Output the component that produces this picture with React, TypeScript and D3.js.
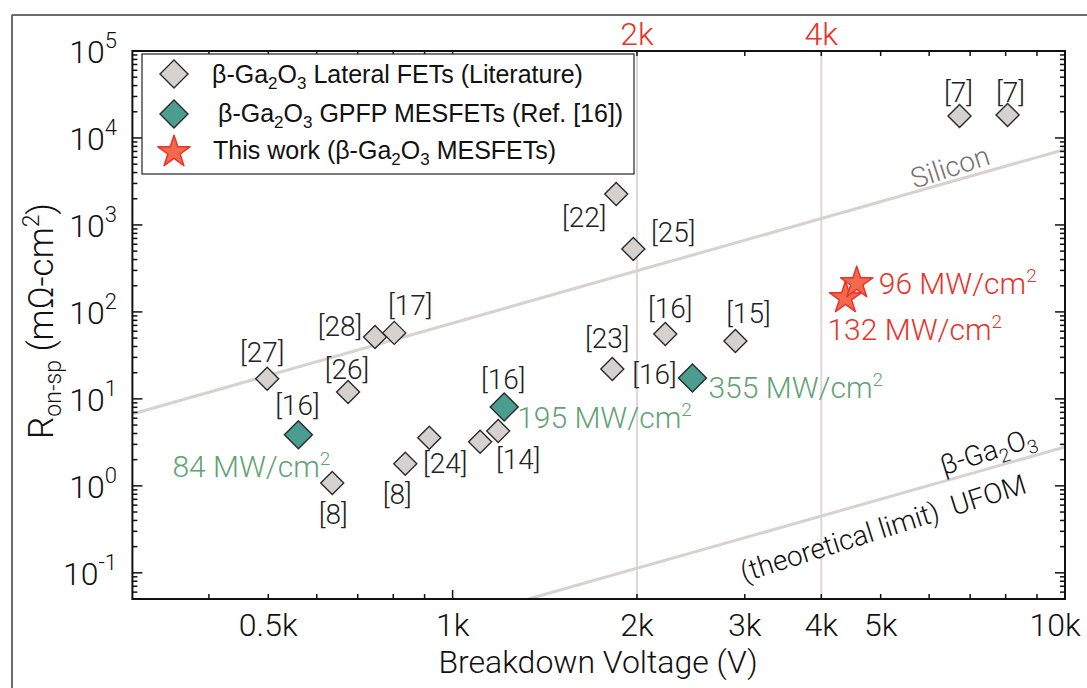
import React from "react";
import * as d3 from "d3";

// Breakdown voltage (V) vs specific on-resistance (mOhm-cm2)
const litRefs = ["[27]", "[8]", "[26]", "[28]", "[17]", "[8]", "[24]", "[14]", "[14]", "[22]", "[25]", "[23]", "[16]", "[15]", "[7]", "[7]"];
const litVoltage = [498, 636, 675, 747, 803, 837, 916, 1109, 1187, 1850, 1973, 1823, 2225, 2896, 6726, 8058];
const litRon = [17.0, 1.08, 12.0, 51.6, 57.4, 1.79, 3.57, 3.21, 4.28, 2270, 530, 22.1, 55.8, 46.4, 17900, 18400];

const gpfpRefs = ["[16]", "[16]", "[16]"];
const gpfpVoltage = [560, 1214, 2464];
const gpfpRon = [3.86, 8.09, 17.4];
const gpfpPower = ["84", "195", "355"];

const thisVoltage = [4380, 4570];
const thisRon = [145, 215];
const thisPower = ["132", "96"];

// limit lines (two end points each)
const siliconV = [300, 10000];
const siliconR = [6.7, 7400];
const ufomV = [1330, 10000];
const ufomR = [0.05, 2.8];

const xLabelValues = [500, 1000, 2000, 3000, 4000, 5000, 10000];
const xLabelText = ["0.5k", "1k", "2k", "3k", "4k", "5k", "10k"];
const topLabelValues = [2000, 4000];
const topLabelText = ["2k", "4k"];
const yLabelExps = [-1, 0, 1, 2, 3, 4, 5];

// label placement relative to each point (px)
const litLabelOffset: ([number, number] | null)[] = [
  [-5, -27], [1, 31], [-1, -23], [-35, -11], [16, -28], [-8, 30], [16, 25], null,
  [20, 28], [-32, 23], [40, -17], [-5, -31], [5, -26], [13, -28], [-1, -24], [3, -23],
];
const gpfpRefOffset = [[-1, -30], [-1, -28], [-38, -4]];
const gpfpPowerOffset = [[-126, 42], [13, 21], [16, 20]];
const thisPowerOffset = [[-18, 42], [22, 11]];

const W = 1087, H = 688;
const left = 132.4, right = 1065, top = 51, bottom = 599;

const GRAY = "#d5d1ce";
const TEAL = "#4a9d8f";
const GREEN = "#5fa374";
const RED = "#e8332b";
const STAR = "#f26a4b";
const LINE = "#d9d1ce";

const diamond = (h: number) => `M0,${-h}L${h},0L0,${h}L${-h},0Z`;

export default function App() {
  const x = d3.scaleLog().domain([300, 10000]).range([left, right]);
  const y = d3.scaleLog().domain([0.05, 1e5]).range([bottom, top]);
  const star = d3.symbol(d3.symbolStar, 320)() as string;

  const pathFor = (vs: number[], rs: number[]) =>
    d3.line<number>()
      .x((v) => x(v))
      .y((_, i) => y(rs[i]))(vs) as string;

  const isMajor = (t: number) => Math.abs(Math.log10(t) - Math.round(Math.log10(t))) < 1e-9;
  const xTicks = x.ticks().filter((t) => t > 300);
  const yTicks = y.ticks();

  const lightFont = { fontFamily: "Roboto", fontWeight: 300 } as const;

  return (
    <svg width={W} height={H} style={{ position: "absolute", left: 0, top: 0, background: "#fff" }}>
      <defs>
        <clipPath id="plot">
          <rect x={left} y={top} width={right - left} height={bottom - top} />
        </clipPath>
      </defs>

      {/* outer figure frame */}
      <line x1={12} y1={15} x2={W} y2={15} stroke="#6b6b6b" strokeWidth={2} />
      <line x1={12} y1={15} x2={12} y2={H} stroke="#6b6b6b" strokeWidth={2} />

      {/* vertical guides at 2k and 4k */}
      {topLabelValues.map((v) => (
        <line key={v} x1={x(v)} x2={x(v)} y1={top} y2={bottom} stroke="#ddd8d5" strokeWidth={2} />
      ))}

      {/* limit lines */}
      <g clipPath="url(#plot)" fill="none" stroke={LINE} strokeWidth={3}>
        <path d={pathFor(siliconV, siliconR)} />
        <path d={pathFor(ufomV, ufomR)} />
      </g>

      {/* axes frame and ticks */}
      <rect x={left} y={top} width={right - left} height={bottom - top} fill="none" stroke="#111" strokeWidth={2} />
      <g stroke="#111" strokeWidth={1.5}>
        {xTicks.map((t) => {
          const len = isMajor(t) ? 9 : 5;
          return (
            <g key={"x" + t}>
              <line x1={x(t)} x2={x(t)} y1={bottom} y2={bottom - len} />
              <line x1={x(t)} x2={x(t)} y1={top} y2={top + len} />
            </g>
          );
        })}
        {yTicks.map((t) => {
          const len = isMajor(t) ? 10 : 5;
          return (
            <g key={"y" + t}>
              <line x1={left} x2={left + len} y1={y(t)} y2={y(t)} />
              <line x1={right} x2={right - len} y1={y(t)} y2={y(t)} />
            </g>
          );
        })}
      </g>

      {/* tick labels */}
      <g {...lightFont} fontSize={32} fill="#111" textAnchor="middle">
        {xLabelValues.map((v, i) => (
          <text key={v} x={i === xLabelValues.length - 1 ? x(v) - 10 : x(v)} y={636}>{xLabelText[i]}</text>
        ))}
      </g>
      <g {...lightFont} fontSize={32} fill={RED} textAnchor="middle">
        {topLabelValues.map((v, i) => (
          <text key={v} x={x(v)} y={45}>{topLabelText[i]}</text>
        ))}
      </g>
      <g {...lightFont} fontSize={32} fill="#111" textAnchor="end">
        {yLabelExps.map((e) => (
          <text key={e} x={117} y={y(Math.pow(10, e)) + 12}>
            10<tspan fontSize={22} dy={-15}>{e}</tspan>
          </text>
        ))}
      </g>

      {/* axis titles */}
      <text {...lightFont} fontSize={32} fill="#111" textAnchor="middle" x={598} y={673}>
        Breakdown Voltage (V)
      </text>
      <text {...lightFont} fontSize={35} fill="#111" textAnchor="middle" x={53} y={321}
        transform="rotate(-90, 53, 321)">
        R<tspan fontSize={23} dy={8}>on-sp</tspan><tspan dy={-8}> (mΩ-cm</tspan>
        <tspan fontSize={23} dy={-14}>2</tspan><tspan dy={14}>)</tspan>
      </text>

      {/* line annotations */}
      <text {...lightFont} fontSize={28} fill="#77716f" textAnchor="middle"
        transform="translate(950,167) rotate(-18)" dy="0.35em">Silicon</text>
      <text {...lightFont} fontSize={28} fill="#111" textAnchor="middle"
        transform="translate(988,451) rotate(-17.5)" dy="0.35em">
        β-Ga<tspan fontSize={19} dy={6}>2</tspan><tspan dy={-6}>O</tspan><tspan fontSize={19} dy={6}>3</tspan>
      </text>
      <text {...lightFont} fontSize={28} fill="#111" textAnchor="middle"
        transform="translate(883,528) rotate(-17.5)" dy="0.35em" style={{ whiteSpace: "pre" }}>
        {"(theoretical limit)  UFOM"}
      </text>

      {/* literature lateral FETs */}
      {litVoltage.map((v, i) => (
        <path key={"lit" + i} d={diamond(11.5)} transform={`translate(${x(v)},${y(litRon[i])})`}
          fill={GRAY} stroke="#2a2a2a" strokeWidth={1.4} />
      ))}
      <g {...lightFont} fontSize={28} fill="#222" textAnchor="middle">
        {litVoltage.map((v, i) => {
          const o = litLabelOffset[i];
          if (!o) return null;
          return (
            <text key={"litl" + i} x={x(v) + o[0]} y={y(litRon[i]) + o[1]} dy="0.35em">{litRefs[i]}</text>
          );
        })}
      </g>

      {/* GPFP MESFETs */}
      {gpfpVoltage.map((v, i) => (
        <path key={"g" + i} d={diamond(14)} transform={`translate(${x(v)},${y(gpfpRon[i])})`}
          fill={TEAL} stroke="#2a2a2a" strokeWidth={1.4} />
      ))}
      <g {...lightFont} fontSize={28} fill="#222" textAnchor="middle">
        {gpfpVoltage.map((v, i) => (
          <text key={"gr" + i} x={x(v) + gpfpRefOffset[i][0]} y={y(gpfpRon[i]) + gpfpRefOffset[i][1]} dy="0.35em">
            {gpfpRefs[i]}
          </text>
        ))}
      </g>
      <g {...lightFont} fontSize={30} fill={GREEN}>
        {gpfpVoltage.map((v, i) => (
          <text key={"gp" + i} x={x(v) + gpfpPowerOffset[i][0]} y={y(gpfpRon[i]) + gpfpPowerOffset[i][1]}>
            {gpfpPower[i]} MW/cm<tspan fontSize={19} dy={-12}>2</tspan>
          </text>
        ))}
      </g>

      {/* this work */}
      {thisVoltage.map((v, i) => (
        <path key={"s" + i} d={star} transform={`translate(${x(v)},${y(thisRon[i])})`}
          fill={STAR} stroke={RED} strokeWidth={1.5} strokeLinejoin="round" />
      ))}
      <g {...lightFont} fontSize={30} fill={RED}>
        {thisVoltage.map((v, i) => (
          <text key={"sp" + i} x={x(v) + thisPowerOffset[i][0]} y={y(thisRon[i]) + thisPowerOffset[i][1]}>
            {thisPower[i]} MW/cm<tspan fontSize={19} dy={-12}>2</tspan>
          </text>
        ))}
      </g>

      {/* legend */}
      <g>
        <rect x={142} y={54} width={492} height={120} fill="#fff" stroke="#222" strokeWidth={1.2} />
        <path d={diamond(14)} transform="translate(174,74)" fill={GRAY} stroke="#2a2a2a" strokeWidth={1.4} />
        <path d={diamond(14)} transform="translate(174,114)" fill={TEAL} stroke="#2a2a2a" strokeWidth={1.4} />
        <path d={star} transform="translate(174,152)" fill={STAR} stroke={RED} strokeWidth={1.5} strokeLinejoin="round" />
        <g fontFamily="'Liberation Sans', Arial, sans-serif" fontSize={25} fill="#111">
          <text x={212} y={83}>
            β-Ga<tspan fontSize={17} dy={6}>2</tspan><tspan dy={-6}>O</tspan><tspan fontSize={17} dy={6}>3</tspan>
            <tspan dy={-6}> Lateral FETs (Literature)</tspan>
          </text>
          <text x={218} y={122}>
            β-Ga<tspan fontSize={17} dy={6}>2</tspan><tspan dy={-6}>O</tspan><tspan fontSize={17} dy={6}>3</tspan>
            <tspan dy={-6}> GPFP MESFETs (Ref. [16])</tspan>
          </text>
          <text x={213} y={159}>
            This work (β-Ga<tspan fontSize={17} dy={6}>2</tspan><tspan dy={-6}>O</tspan>
            <tspan fontSize={17} dy={6}>3</tspan><tspan dy={-6}> MESFETs)</tspan>
          </text>
        </g>
      </g>
    </svg>
  );
}
